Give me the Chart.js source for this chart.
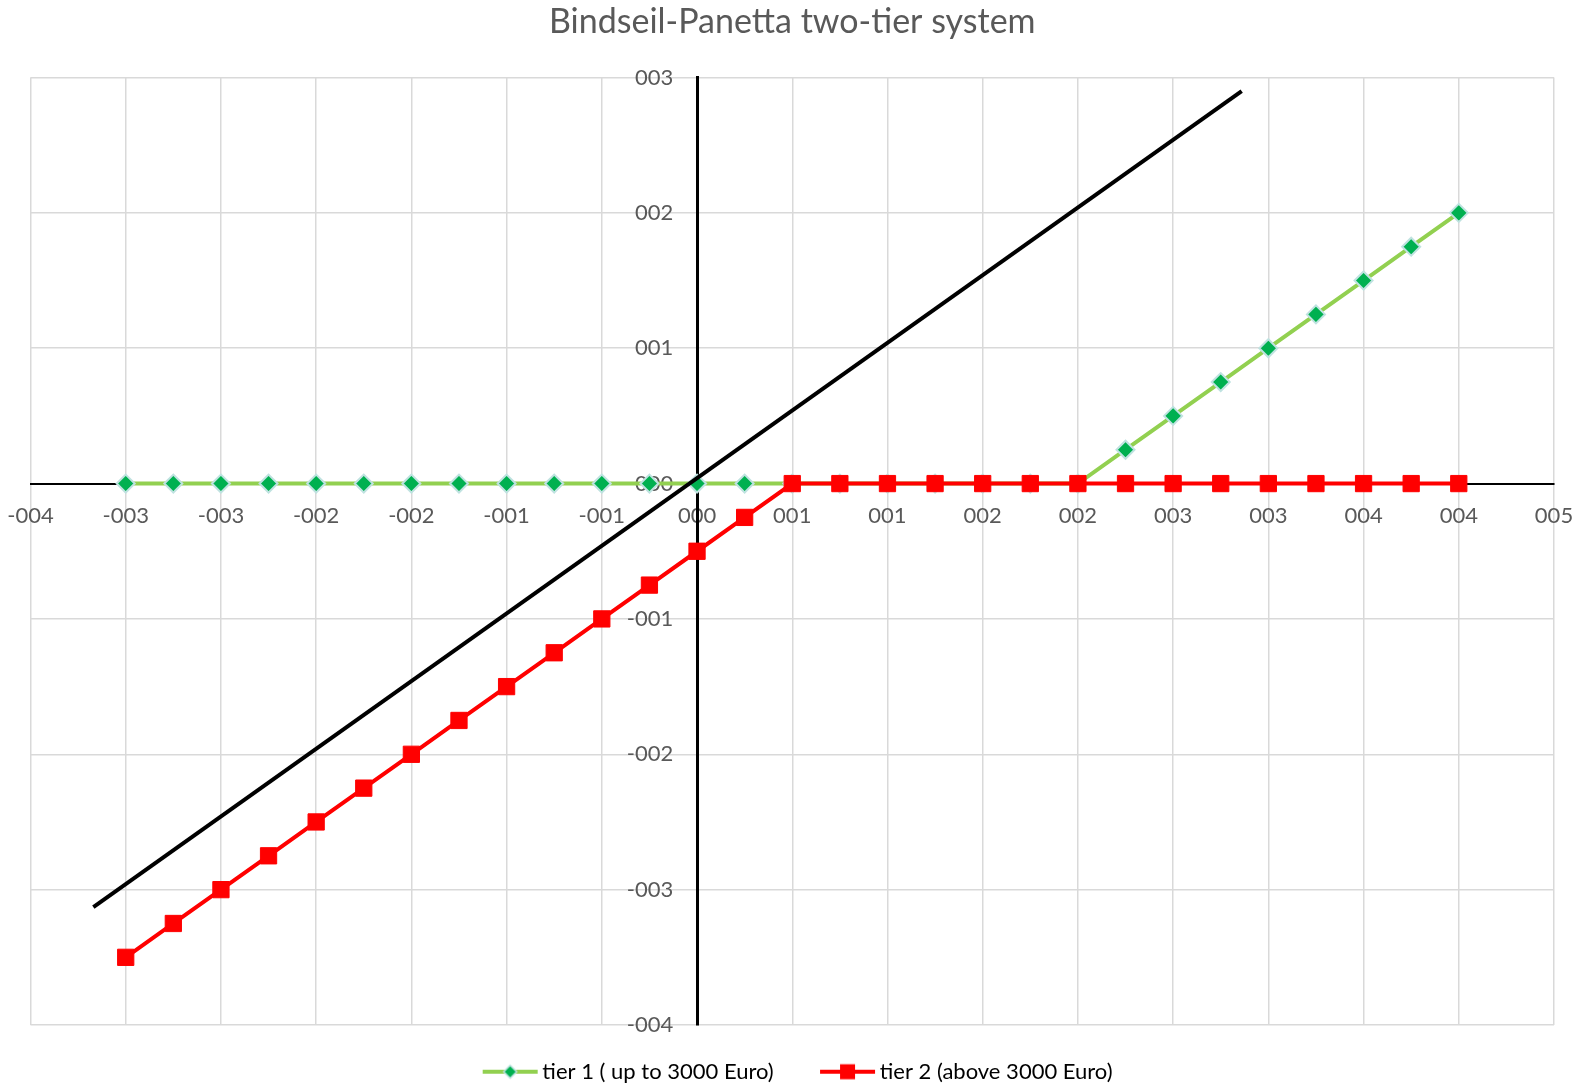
<!DOCTYPE html>
<html>
<head>
<meta charset="utf-8">
<title>Bindseil-Panetta two-tier system</title>
<script src="https://cdn.jsdelivr.net/npm/chart.js@4.4.1/dist/chart.umd.min.js"></script>
<style>
  html, body { margin: 0; padding: 0; background: #ffffff; }
  canvas { display: block; }
</style>
</head>
<body>
<canvas id="tierChart" width="1585" height="1086"></canvas>
<script>
// policy rate steps (x) and the rate paid on each tier (y)
var rates = [-3, -2.75, -2.5, -2.25, -2, -1.75, -1.5, -1.25, -1, -0.75, -0.5, -0.25, 0,
             0.25, 0.5, 0.75, 1, 1.25, 1.5, 1.75, 2, 2.25, 2.5, 2.75, 3, 3.25, 3.5, 3.75, 4];
var tier1 = [0, 0, 0, 0, 0, 0, 0, 0, 0, 0, 0, 0, 0,
             0, 0, 0, 0, 0, 0, 0, 0, 0.25, 0.5, 0.75, 1, 1.25, 1.5, 1.75, 2];
var tier2 = [-3.5, -3.25, -3, -2.75, -2.5, -2.25, -2, -1.75, -1.5, -1.25, -1, -0.75, -0.5,
             -0.25, 0, 0, 0, 0, 0, 0, 0, 0, 0, 0, 0, 0, 0, 0, 0];

// the diagonal reference line (no legend entry)
var diagX = [-3.17, 2.86];
var diagY = [-3.13, 2.90];

var xTickLabels = ['-004', '-003', '-003', '-002', '-002', '-001', '-001', '000', '001',
                   '001', '002', '002', '003', '003', '004', '004', '005'];
var yTickLabels = ['-004', '-003', '-002', '-001', '000', '001', '002', '003'];
var seriesNames = ['tier 1 ( up to 3000 Euro)', 'tier 2 (above 3000 Euro)'];

function toPoints(xs, ys) {
    return xs.map(function (x, i) { return { x: x, y: ys[i] }; });
}

// axes sit inside the plot, so their labels must not push the plot area in
function noLabelPadding(scale) {
    scale.paddingLeft = 0;
    scale.paddingRight = 0;
    scale.paddingTop = 0;
    scale.paddingBottom = 0;
}

// excel-like legend symbol: a short line with the marker in the middle
function legendIcon(color, marker) {
    var c = document.createElement('canvas');
    c.width = 74;
    c.height = 22;
    var g = c.getContext('2d');
    g.strokeStyle = color;
    g.lineWidth = 4;
    g.beginPath();
    g.moveTo(18, 11);
    g.lineTo(73, 11);
    g.stroke();
    if (marker === 'diamond') {
        g.beginPath();
        g.moveTo(39, 11);
        g.lineTo(45.5, 4.5);
        g.lineTo(52, 11);
        g.lineTo(45.5, 17.5);
        g.closePath();
        g.fillStyle = '#00B050';
        g.fill();
        g.strokeStyle = '#bfe2e0';
        g.lineWidth = 1.5;
        g.stroke();
    } else {
        g.fillStyle = color;
        g.fillRect(38, 3.5, 15, 15);
    }
    return c;
}
var legendIcons = [legendIcon('#92D050', 'diamond'), legendIcon('#FF0000', 'square')];

Chart.defaults.font.family = 'Lato, "Open Sans", sans-serif';
Chart.defaults.color = '#595959';

var ctx = document.getElementById('tierChart').getContext('2d');
var tierChart = new Chart(ctx, {
    type: 'scatter',
    data: {
        datasets: [{
            label: seriesNames[0],
            data: toPoints(rates, tier1),
            showLine: true,
            borderColor: '#92D050',
            borderWidth: 4,
            pointStyle: 'rectRot',
            pointRadius: 9,
            pointBackgroundColor: '#00B050',
            pointBorderColor: '#bfe2e0',
            pointBorderWidth: 2,
            order: 2
        }, {
            label: seriesNames[1],
            data: toPoints(rates, tier2),
            showLine: true,
            borderColor: '#FF0000',
            borderWidth: 4,
            pointStyle: 'rect',
            pointRadius: 11.5,
            pointBackgroundColor: '#FF0000',
            pointBorderColor: '#FF0000',
            pointBorderWidth: 1,
            order: 1
        }, {
            label: '',
            data: toPoints(diagX, diagY),
            showLine: true,
            borderColor: '#000000',
            borderWidth: 4,
            pointRadius: 0,
            order: 0
        }]
    },
    options: {
        responsive: false,
        animation: false,
        layout: {
            padding: { left: 30.5, right: 31, top: 0, bottom: -6.7 }
        },
        scales: {
            x: {
                type: 'linear',
                position: { y: 0 },
                min: -3.5,
                max: 4.5,
                afterFit: noLabelPadding,
                grid: { color: '#d9d9d9', lineWidth: 1.5, drawTicks: false },
                border: { color: '#000000', width: 2 },
                ticks: {
                    stepSize: 0.5,
                    autoSkip: false,
                    maxRotation: 0,
                    padding: 19,
                    color: '#595959',
                    font: { size: 22 },
                    callback: function (value, index) { return xTickLabels[index]; }
                }
            },
            y: {
                type: 'linear',
                position: { x: 0 },
                min: -4,
                max: 3,
                afterFit: noLabelPadding,
                grid: { color: '#d9d9d9', lineWidth: 1.5, drawTicks: false },
                border: { color: '#000000', width: 3 },
                ticks: { stepSize: 1, display: false }
            },
            // labels for the vertical axis, set a little left of the zero line
            yLabels: {
                type: 'linear',
                axis: 'y',
                position: { x: -0.125 },
                min: -4,
                max: 3,
                afterFit: noLabelPadding,
                grid: { display: false, drawTicks: false },
                border: { display: false },
                ticks: {
                    stepSize: 1,
                    autoSkip: false,
                    padding: 0,
                    color: '#595959',
                    font: { size: 22 },
                    callback: function (value, index) { return yTickLabels[index]; }
                }
            }
        },
        plugins: {
            title: {
                display: true,
                text: 'Bindseil-Panetta two-tier system',
                color: '#595959',
                font: { size: 34, weight: 'normal' },
                padding: { top: 2, bottom: 34.7 }
            },
            legend: {
                position: 'bottom',
                labels: {
                    usePointStyle: true,
                    pointStyleWidth: 59.4,
                    padding: 35.7,
                    color: '#595959',
                    font: { size: 22 },
                    generateLabels: function (chart) {
                        return seriesNames.map(function (name, i) {
                            return {
                                text: name,
                                datasetIndex: i,
                                pointStyle: legendIcons[i],
                                fillStyle: 'transparent',
                                strokeStyle: 'transparent',
                                lineWidth: 0,
                                hidden: false
                            };
                        });
                    }
                }
            },
            tooltip: { enabled: false }
        }
    }
});
</script>
</body>
</html>
